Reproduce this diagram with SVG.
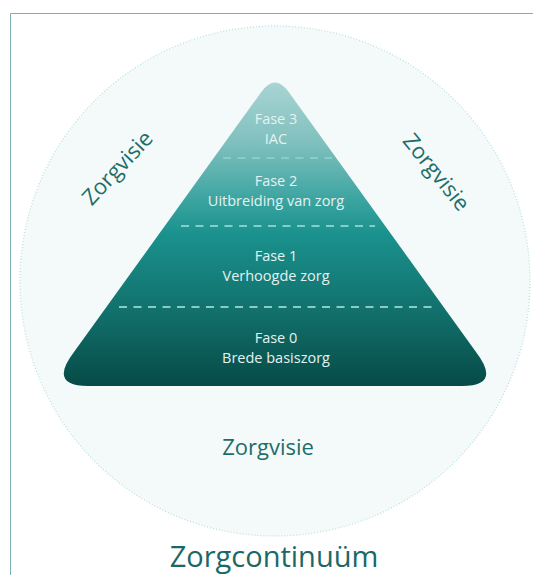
<svg xmlns="http://www.w3.org/2000/svg" width="533" height="575" viewBox="0 0 533 575">
  <defs>
    <linearGradient id="pyr" x1="0" y1="0" x2="0" y2="1">
      <stop offset="0" stop-color="#a9d4d3"/>
      <stop offset="0.2" stop-color="#7fc0be"/>
      <stop offset="0.4" stop-color="#37a29e"/>
      <stop offset="0.5" stop-color="#1a918d"/>
      <stop offset="0.75" stop-color="#12716c"/>
      <stop offset="1" stop-color="#064b47"/>
    </linearGradient>
    <style>
      .phase { font-family: "Open Sans", "Noto Sans", sans-serif; font-size: 14.5px; fill: #e4f2f1; text-anchor: middle; }
      .visie { font-family: "Open Sans", "Noto Sans", sans-serif; font-size: 22px; fill: #1d6e6b; text-anchor: middle; }
      .sep { stroke: #86cdc8; stroke-width: 2; stroke-dasharray: 8 6.5; fill: none; }
    </style>
  </defs>
  <rect width="533" height="575" fill="#ffffff"/>
  <g id="frame">
    <path d="M10.5 575 V13.5 H533" fill="none" stroke="#7fb0b0" stroke-width="1"/>
  </g>
  <g id="circle">
    <circle cx="275" cy="281" r="255" fill="#f4fafa" stroke="#bcdfdf" stroke-width="1.3" stroke-dasharray="1 2"/>
  </g>
  <g id="pyramid">
    <path d="M261.3 92 Q275 73 288.7 92 L476 352 Q502 386 462 386 L88 386 Q48 386 74 352 Z" fill="url(#pyr)"/>
  </g>
  <g id="connectors">
    <line class="sep" x1="223" y1="158" x2="332" y2="158"/>
    <line class="sep" x1="181" y1="226" x2="375" y2="226"/>
    <line class="sep" x1="119" y1="307" x2="433" y2="307"/>
  </g>
  <g id="fase3">
    <text class="phase" x="276" y="124">Fase 3</text>
    <text class="phase" x="276" y="144">IAC</text>
  </g>
  <g id="fase2">
    <text class="phase" x="276" y="186">Fase 2</text>
    <text class="phase" x="276" y="206">Uitbreiding van zorg</text>
  </g>
  <g id="fase1">
    <text class="phase" x="276" y="261">Fase 1</text>
    <text class="phase" x="276" y="281">Verhoogde zorg</text>
  </g>
  <g id="fase0">
    <text class="phase" x="276" y="343">Fase 0</text>
    <text class="phase" x="276" y="363">Brede basiszorg</text>
  </g>
  <g id="visie-left">
    <text class="visie" transform="translate(123 173) rotate(-47)">Zorgvisie</text>
  </g>
  <g id="visie-right">
    <text class="visie" transform="translate(430.5 177) rotate(51)">Zorgvisie</text>
  </g>
  <g id="visie-bottom">
    <text class="visie" x="268" y="455">Zorgvisie</text>
  </g>
  <g id="title">
    <text x="274" y="567" font-family="'Open Sans', 'Noto Sans', sans-serif" font-size="29" fill="#1b6866" text-anchor="middle">Zorgcontinuüm</text>
  </g>
</svg>
